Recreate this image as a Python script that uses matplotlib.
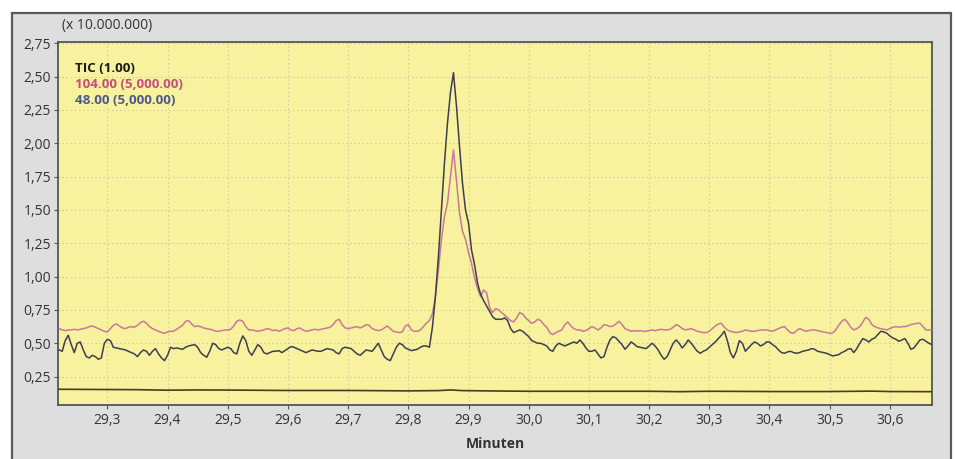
"""Chromatogram: TIC plus two ion traces around the 29.87 min peak."""

import numpy as np
import matplotlib
matplotlib.use("Agg")
import matplotlib.pyplot as plt
from matplotlib.patches import Rectangle
from matplotlib.ticker import FuncFormatter, MultipleLocator

plt.rcParams["font.family"] = ["Open Sans", "DejaVu Sans"]

# sampling grid of the two ion traces (minutes)
T_START = 29.22
T_STEP = 0.005

# 104.00 (x 5,000) trace, in units of 10.000.000
ion_104 = [
    0.61, 0.60, 0.595, 0.60, 0.60, 0.605, 0.60, 0.605, 0.61, 0.615,
    0.625, 0.63, 0.62, 0.61, 0.60, 0.59, 0.585, 0.61, 0.635, 0.645,
    0.63, 0.615, 0.61, 0.62, 0.625, 0.62, 0.635, 0.655, 0.665, 0.65,
    0.625, 0.61, 0.60, 0.59, 0.58, 0.575, 0.585, 0.59, 0.59, 0.605,
    0.62, 0.635, 0.665, 0.67, 0.645, 0.625, 0.63, 0.625, 0.615, 0.61,
    0.605, 0.60, 0.59, 0.59, 0.595, 0.60, 0.60, 0.605, 0.63, 0.665,
    0.675, 0.665, 0.625, 0.60, 0.60, 0.595, 0.59, 0.595, 0.60, 0.61,
    0.605, 0.595, 0.60, 0.59, 0.60, 0.61, 0.615, 0.60, 0.595, 0.61,
    0.615, 0.60, 0.59, 0.595, 0.60, 0.605, 0.60, 0.605, 0.61, 0.615,
    0.62, 0.64, 0.67, 0.68, 0.64, 0.615, 0.61, 0.615, 0.62, 0.625,
    0.615, 0.625, 0.64, 0.635, 0.61, 0.60, 0.595, 0.60, 0.615, 0.63,
    0.61, 0.59, 0.585, 0.58, 0.585, 0.63, 0.64, 0.60, 0.59, 0.59,
    0.60, 0.625, 0.65, 0.67, 0.72, 0.85, 1.05, 1.28, 1.45, 1.55,
    1.75, 1.95, 1.72, 1.48, 1.34, 1.28, 1.18, 1.10, 0.99, 0.91,
    0.85, 0.90, 0.88, 0.77, 0.73, 0.76, 0.75, 0.73, 0.71, 0.69,
    0.67, 0.66, 0.69, 0.73, 0.72, 0.69, 0.67, 0.65, 0.66, 0.68,
    0.67, 0.64, 0.62, 0.58, 0.565, 0.58, 0.59, 0.60, 0.64, 0.66,
    0.63, 0.61, 0.60, 0.60, 0.59, 0.595, 0.61, 0.625, 0.615, 0.60,
    0.615, 0.64, 0.635, 0.625, 0.63, 0.645, 0.665, 0.64, 0.61, 0.60,
    0.59, 0.595, 0.59, 0.595, 0.59, 0.59, 0.595, 0.60, 0.595, 0.60,
    0.605, 0.60, 0.60, 0.605, 0.62, 0.64, 0.63, 0.61, 0.60, 0.605,
    0.61, 0.60, 0.59, 0.585, 0.58, 0.58, 0.59, 0.61, 0.63, 0.645,
    0.65, 0.62, 0.60, 0.59, 0.585, 0.58, 0.585, 0.59, 0.60, 0.595,
    0.59, 0.59, 0.595, 0.60, 0.60, 0.60, 0.595, 0.59, 0.60, 0.61,
    0.62, 0.625, 0.60, 0.58, 0.575, 0.595, 0.61, 0.60, 0.59, 0.595,
    0.60, 0.60, 0.595, 0.59, 0.585, 0.58, 0.575, 0.578, 0.60, 0.635,
    0.665, 0.68, 0.655, 0.62, 0.60, 0.61, 0.625, 0.66, 0.695, 0.68,
    0.64, 0.625, 0.615, 0.61, 0.605, 0.60, 0.61, 0.62, 0.625, 0.62,
    0.625, 0.625, 0.63, 0.64, 0.645, 0.65, 0.65, 0.625, 0.60, 0.60, 0.60,
]

# 48.00 (x 5,000) trace
ion_48 = [
    0.45, 0.44, 0.52, 0.56, 0.49, 0.43, 0.50, 0.51, 0.45, 0.40,
    0.39, 0.41, 0.40, 0.38, 0.39, 0.50, 0.53, 0.52, 0.47, 0.465,
    0.46, 0.455, 0.45, 0.44, 0.43, 0.42, 0.40, 0.43, 0.45, 0.44,
    0.41, 0.44, 0.46, 0.42, 0.39, 0.37, 0.41, 0.47, 0.46, 0.465,
    0.46, 0.455, 0.47, 0.48, 0.485, 0.49, 0.47, 0.43, 0.41, 0.395,
    0.44, 0.50, 0.49, 0.46, 0.45, 0.46, 0.47, 0.46, 0.43, 0.42,
    0.50, 0.555, 0.52, 0.44, 0.41, 0.45, 0.49, 0.47, 0.43, 0.42,
    0.43, 0.44, 0.44, 0.445, 0.43, 0.445, 0.46, 0.475, 0.47, 0.46,
    0.45, 0.44, 0.43, 0.44, 0.45, 0.445, 0.44, 0.44, 0.45, 0.46,
    0.455, 0.45, 0.43, 0.42, 0.46, 0.47, 0.465, 0.46, 0.44, 0.42,
    0.41, 0.43, 0.45, 0.445, 0.44, 0.47, 0.50, 0.45, 0.40, 0.38,
    0.37, 0.42, 0.47, 0.50, 0.49, 0.465, 0.455, 0.445, 0.45, 0.455,
    0.47, 0.48, 0.48, 0.47, 0.62, 0.85, 1.15, 1.50, 1.85, 2.15,
    2.38, 2.53, 2.28, 1.98, 1.70, 1.50, 1.40, 1.20, 1.09, 0.95,
    0.87, 0.82, 0.78, 0.74, 0.70, 0.68, 0.68, 0.68, 0.69, 0.67,
    0.61, 0.58, 0.59, 0.60, 0.59, 0.57, 0.55, 0.52, 0.51, 0.50,
    0.50, 0.49, 0.48, 0.45, 0.44, 0.48, 0.50, 0.49, 0.48, 0.49,
    0.50, 0.51, 0.50, 0.525, 0.50, 0.465, 0.44, 0.44, 0.45, 0.42,
    0.39, 0.40, 0.47, 0.525, 0.55, 0.54, 0.515, 0.49, 0.455, 0.48,
    0.51, 0.495, 0.475, 0.47, 0.465, 0.46, 0.48, 0.50, 0.48, 0.45,
    0.41, 0.38, 0.40, 0.45, 0.50, 0.525, 0.50, 0.465, 0.49, 0.525,
    0.50, 0.47, 0.44, 0.425, 0.44, 0.45, 0.47, 0.49, 0.51, 0.535,
    0.56, 0.59, 0.52, 0.43, 0.39, 0.44, 0.52, 0.50, 0.44, 0.465,
    0.49, 0.51, 0.50, 0.48, 0.49, 0.51, 0.51, 0.49, 0.475, 0.45,
    0.43, 0.425, 0.435, 0.44, 0.43, 0.425, 0.43, 0.44, 0.445, 0.45,
    0.46, 0.455, 0.44, 0.435, 0.43, 0.425, 0.415, 0.405, 0.41, 0.415,
    0.43, 0.44, 0.455, 0.46, 0.43, 0.46, 0.50, 0.535, 0.525, 0.51,
    0.53, 0.54, 0.565, 0.59, 0.585, 0.575, 0.555, 0.54, 0.53, 0.515,
    0.525, 0.535, 0.50, 0.455, 0.465, 0.495, 0.525, 0.53, 0.515, 0.50, 0.49,
]

# TIC (x 1.00), nearly flat
tic_time = [29.22, 29.35, 29.40, 29.45, 29.50, 29.60, 29.70, 29.80, 29.85,
            29.87, 29.89, 29.95, 30.00, 30.20, 30.25, 30.30, 30.40, 30.50,
            30.57, 30.60, 30.67]
tic = [0.155, 0.152, 0.148, 0.150, 0.149, 0.146, 0.146, 0.143, 0.145,
       0.150, 0.145, 0.142, 0.140, 0.140, 0.137, 0.140, 0.138, 0.138,
       0.141, 0.138, 0.137]

legend_labels = ["TIC (1.00)", "104.00 (5,000.00)", "48.00 (5,000.00)"]
legend_colors = ["#1a1a1a", "#c2507e", "#4a5a8c"]

time = T_START + T_STEP * np.arange(len(ion_104))

W, H = 955, 459
fig = plt.figure(figsize=(W / 100, H / 100), dpi=100)
fig.patch.set_facecolor("white")

# grey instrument panel behind the plot
panel = Rectangle((12 / W, -0.2), (951 - 12) / W, 1.2 - 13 / H,
                  transform=fig.transFigure, facecolor="#dedede",
                  edgecolor="#5a5a5a", linewidth=1.6, zorder=-10)
fig.patches.append(panel)

ax = fig.add_axes([58 / W, (H - 405) / H, (932 - 58) / W, (405 - 42) / H])
ax.set_zorder(1)
ax.set_facecolor("#f8f29e")

ax.plot(time, ion_104, color="#c9789a", linewidth=1.1, zorder=3)
ax.plot(time, ion_48, color="#3e3e52", linewidth=1.1, zorder=4)
ax.plot(tic_time, tic, color="#4e3a1e", linewidth=1.2, zorder=5)

ax.set_xlim(29.218, 30.67)
ax.set_ylim(0.037, 2.76)

ax.xaxis.set_major_locator(MultipleLocator(0.1))
ax.set_yticks(np.arange(0.25, 2.76, 0.25))
comma = lambda fmt: FuncFormatter(lambda v, p: (fmt % v).replace(".", ","))
ax.xaxis.set_major_formatter(comma("%.1f"))
ax.yaxis.set_major_formatter(comma("%.2f"))

ax.grid(True, color="#cbc8a4", linestyle=(0, (1.2, 2.5)), linewidth=0.8)
ax.set_axisbelow(True)
ax.tick_params(length=3, width=0.8, color="#555555", labelsize=10,
               labelcolor="#333333", pad=2)
ax.tick_params(axis="x", pad=3)
for s in ax.spines.values():
    s.set_color("#555555")
    s.set_linewidth(1.3)

ax.set_xlabel("Minuten", fontsize=10, fontweight="bold", color="#333333",
              labelpad=6)
fig.text(62 / W, 1 - 25 / H, "(x 10.000.000)", fontsize=10,
         color="#333333", va="center", ha="left")

for k, (lab, col) in enumerate(zip(legend_labels, legend_colors)):
    ax.text(0.0195, 0.926 - k * 0.044, lab, transform=ax.transAxes,
            fontsize=9.6, fontweight="bold", color=col, va="center",
            ha="left", zorder=6)

fig.savefig("out.png", dpi=100)
